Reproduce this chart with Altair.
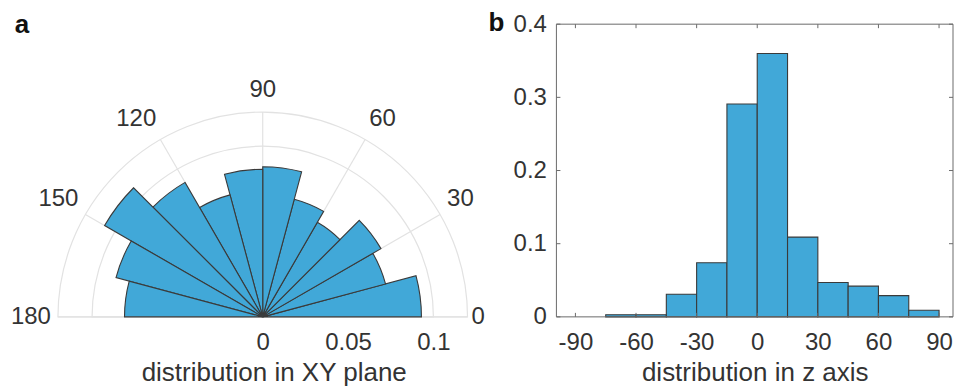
import altair as alt
import pandas as pd
import numpy as np

# ---------------- data ----------------
# panel a: polar histogram (fraction per 15-degree bin, 0..180 deg)
xy_bin_start = [0, 15, 30, 45, 60, 75, 90, 105, 120, 135, 150, 165]
xy_bin_end = [15, 30, 45, 60, 75, 90, 105, 120, 135, 150, 165, 180]
xy_values = [0.093, 0.0745, 0.080, 0.064, 0.0714, 0.088,
             0.0865, 0.074, 0.091, 0.107, 0.089, 0.081]
xy_grid_r = [0.05, 0.10, 0.12]
xy_angle_ticks = [0, 30, 60, 90, 120, 150, 180]
xy_r_ticks = [0, 0.05, 0.1]

# panel b: histogram in z
z_bin_start = [-75, -60, -45, -30, -15, 0, 15, 30, 45, 60, 75]
z_bin_end = [-60, -45, -30, -15, 0, 15, 30, 45, 60, 75, 90]
z_values = [0.003, 0.003, 0.031, 0.074, 0.291, 0.360, 0.109, 0.047, 0.042, 0.029, 0.009]
z_x_ticks = [-90, -60, -30, 0, 30, 60, 90]
z_y_ticks = [0, 0.1, 0.2, 0.3, 0.4]

# ---------------- style ----------------
FONT = "Liberation Sans"
BAR = "#41a8d8"
EDGE = "#3a3a3a"
GRID = "#e2e2e2"
TXT = "#333333"
AX = "#6a6a6a"
LBL = 24
TTL = 26

H = 293
RMAX = 0.12
WA = 410
PX_PER = WA / (2 * RMAX)
YMAX_A = H / PX_PER

xs_a = alt.Scale(domain=[-RMAX, RMAX], nice=False, zero=False)
ys_a = alt.Scale(domain=[0, YMAX_A], nice=False, zero=False)
th_s = alt.Scale(domain=[0, 180], range=[2.5 * np.pi, 1.5 * np.pi])
r_s = alt.Scale(type="linear", domain=[0, RMAX], range=[0, RMAX * PX_PER], zero=True)

ax_a = alt.Axis(values=xy_r_ticks, format="~g", ticks=False, tickSize=0, domain=False,
                grid=False, labelPadding=14, title="distribution in XY plane",
                titlePadding=5, titleX=216, labelFont=FONT, labelFontSize=LBL,
                labelColor=TXT, titleFont=FONT, titleFontSize=TTL, titleFontWeight="normal",
                titleColor=TXT)

wedges = pd.DataFrame({"a0": xy_bin_start, "a1": xy_bin_end, "r": xy_values})
grid = pd.DataFrame({"r": xy_grid_r, "a0": [0] * len(xy_grid_r), "a1": [180] * len(xy_grid_r)})
spk = pd.DataFrame({"ang": xy_angle_ticks})
spk["x"] = 0.0
spk["y"] = 0.0
spk["x2"] = RMAX * np.cos(np.radians(spk["ang"]))
spk["y2"] = RMAX * np.sin(np.radians(spk["ang"]))
spk["lab"] = spk["ang"].astype(str)
# label centre: anchored just outside the outer ring, pushed outwards by half the text size
rad = np.radians(spk["ang"])
cosv = np.cos(rad).round(6)
half_w = 6.7 * spk["lab"].str.len()
spk["lx"] = (213 * cosv + np.sign(cosv) * half_w) / PX_PER
spk["ly"] = (219 * np.sin(rad) + 8.5) / PX_PER
mid = spk[(spk["ang"] > 0) & (spk["ang"] < 180)]
end0 = spk[spk["ang"] == 0].copy()
end0["lx"] = 209 / PX_PER
end0["ly"] = 0.0
end180 = spk[spk["ang"] == 180].copy()
end180["lx"] = -212 / PX_PER
end180["ly"] = 0.0
rt = pd.DataFrame({"v": xy_r_ticks})

CX = WA / 2
CY = H

axis_layer = alt.Chart(rt).mark_point(opacity=0).encode(
    x=alt.X("v:Q", scale=xs_a, axis=ax_a),
    y=alt.Y("v:Q", scale=ys_a, axis=None),
)
grid_layer = alt.Chart(grid).mark_arc(fillOpacity=0, stroke=GRID, strokeWidth=1.2).encode(
    theta=alt.Theta("a0:Q", scale=th_s), theta2="a1:Q",
    radius=alt.Radius("r:Q", scale=r_s),
    x=alt.value(CX), y=alt.value(CY),
)
spoke_layer = alt.Chart(spk).mark_rule(color=GRID, strokeWidth=1.2).encode(
    x=alt.X("x:Q", scale=xs_a, axis=ax_a), y=alt.Y("y:Q", scale=ys_a, axis=None),
    x2="x2:Q", y2="y2:Q",
)
wedge_layer = alt.Chart(wedges).mark_arc(fill=BAR, stroke=EDGE, strokeWidth=1.1).encode(
    theta=alt.Theta("a0:Q", scale=th_s), theta2="a1:Q",
    radius=alt.Radius("r:Q", scale=r_s),
    x=alt.value(CX), y=alt.value(CY),
)


def ang_labels(df, align):
    return alt.Chart(df).mark_text(font=FONT, fontSize=LBL, color=TXT, align=align,
                                   baseline="middle").encode(
        x=alt.X("lx:Q", scale=xs_a, axis=ax_a), y=alt.Y("ly:Q", scale=ys_a, axis=None),
        text="lab:N")


lab_mid = ang_labels(mid, "center")
lab_0 = ang_labels(end0, "left")
lab_180 = ang_labels(end180, "right")
tag_a = alt.Chart(pd.DataFrame({"t": ["a"]})).mark_text(
    font=FONT, fontSize=26, fontWeight="bold", color="#111", align="center", baseline="middle"
).encode(x=alt.value(-36), y=alt.value(1), text="t:N")

panel_a = alt.layer(axis_layer, grid_layer, spoke_layer, wedge_layer, lab_mid, lab_0, lab_180,
                    tag_a).properties(width=WA, height=H)

# ---------------- panel b ----------------
WB = 397
xs_b = alt.Scale(domain=[-99.4, 96.9], nice=False, zero=False)
ys_b = alt.Scale(domain=[0, 0.4], nice=False)
ax_bx = alt.Axis(values=z_x_ticks, labelExpr="'' + datum.value", ticks=False, tickSize=0,
                 domain=False, grid=False, labelPadding=14, title="distribution in z axis",
                 titlePadding=5, labelFont=FONT, labelFontSize=LBL, labelColor=TXT,
                 titleFont=FONT, titleFontSize=TTL, titleFontWeight="normal", titleColor=TXT)
ax_by = alt.Axis(values=z_y_ticks, format="~g", ticks=False, tickSize=0, domain=False,
                 grid=False, labelPadding=10, title=None, labelFont=FONT,
                 labelFontSize=LBL, labelColor=TXT)
zdf = pd.DataFrame({"x0": z_bin_start, "x1": z_bin_end, "v": z_values})
xt = pd.DataFrame({"t": z_x_ticks})
yt = pd.DataFrame({"t": z_y_ticks})

frame = alt.Chart(pd.DataFrame({"x0": [-99.4], "x1": [96.9], "y0": [0], "y1": [0.4]})).mark_rect(
    fill=None, stroke=AX, strokeWidth=1).encode(
    x=alt.X("x0:Q", scale=xs_b, axis=ax_bx), x2="x1:Q",
    y=alt.Y("y0:Q", scale=ys_b, axis=ax_by), y2="y1:Q")
bars = alt.Chart(zdf).mark_bar(fill=BAR, stroke=EDGE, strokeWidth=1.1).encode(
    x=alt.X("x0:Q", scale=xs_b, axis=ax_bx),
    x2="x1:Q",
    y=alt.Y("v:Q", scale=ys_b, axis=ax_by),
    y2=alt.datum(0),
)
tk_bot = alt.Chart(xt).mark_rule(color=AX).encode(
    x=alt.X("t:Q", scale=xs_b, axis=ax_bx), y=alt.value(H), y2=alt.value(H - 4))
tk_top = alt.Chart(xt).mark_rule(color=AX).encode(
    x=alt.X("t:Q", scale=xs_b, axis=ax_bx), y=alt.value(0), y2=alt.value(4))
tk_left = alt.Chart(yt).mark_rule(color=AX).encode(
    y=alt.Y("t:Q", scale=ys_b, axis=ax_by), x=alt.value(0), x2=alt.value(4))
tk_right = alt.Chart(yt).mark_rule(color=AX).encode(
    y=alt.Y("t:Q", scale=ys_b, axis=ax_by), x=alt.value(WB), x2=alt.value(WB - 4))
tag_b = alt.Chart(pd.DataFrame({"t": ["b"]})).mark_text(
    font=FONT, fontSize=26, fontWeight="bold", color="#111", align="center", baseline="middle"
).encode(x=alt.value(-60), y=alt.value(-1), text="t:N")

panel_b = alt.layer(bars, frame, tk_bot, tk_top, tk_left, tk_right, tag_b).properties(
    width=WB, height=H)

chart = alt.hconcat(panel_a, panel_b, spacing=89, bounds="flush").properties(
    padding={"left": 2, "top": 2, "right": 0, "bottom": 0}, background="white"
).configure_view(strokeWidth=0, stroke="transparent")

chart.save("out.html", embed_options={"renderer": "svg", "actions": False})
